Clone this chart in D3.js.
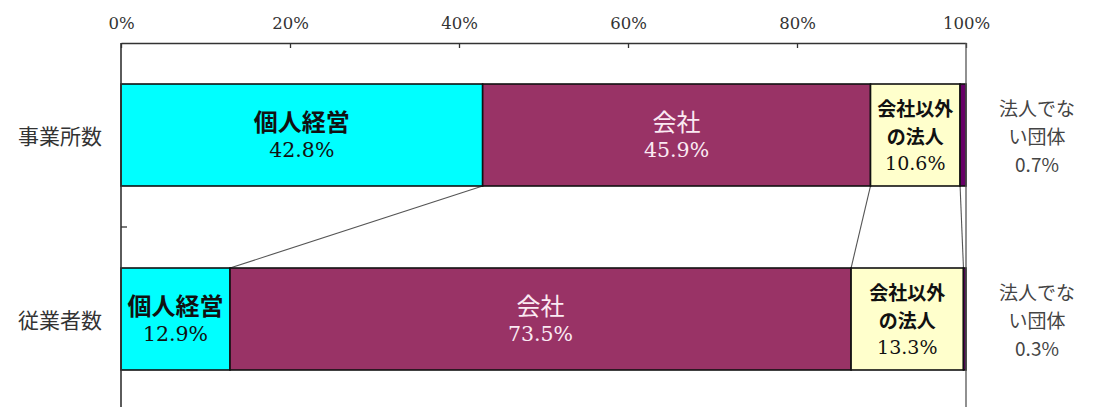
<!DOCTYPE html>
<html>
<head>
<meta charset="utf-8">
<script src="https://cdn.jsdelivr.net/npm/d3@7"></script>
<style>
  html, body { margin: 0; padding: 0; background: #fff; }
  svg { display: block; }
</style>
</head>
<body>
<svg id="chart" width="1100" height="407"></svg>
<script>
// Share of establishments and employees by type of organisation (%)
const categories = ["事業所数", "従業者数"];
const segmentNames = ["個人経営", "会社", "会社以外の法人", "法人でない団体"];
const establishmentShares = [42.8, 45.9, 10.6, 0.7];
const employeeShares = [12.9, 73.5, 13.3, 0.3];
const tickValues = [0, 20, 40, 60, 80, 100];
const segmentLabelLines = [["個人経営"], ["会社"], ["会社以外", "の法人"], ["法人でな", "い団体"]];

const seriesByCategory = [establishmentShares, employeeShares];
const colors = ["#00FFFF", "#993366", "#FFFFCC", "#660066"];
const labelColors = ["#111", "#FBEAF3", "#111", "#444"];
const labelWeights = ["bold", "normal", "bold", "normal"];
const nameSizes = [24, 24, 19, 19];
const pctSizes = [20.5, 20.5, 19, 19];

const serif = "'DejaVu Serif', 'Noto Sans CJK JP', serif";
const jp = "'Noto Sans CJK JP', sans-serif";

const margin = { left: 121, right: 134, top: 43, bottom: -4 };
const width = 1100, height = 407;
const svg = d3.select("#chart");

const x = d3.scaleLinear().domain([0, 100]).range([margin.left, width - margin.right]);
const inner = 0.4457;
const y = d3.scaleBand().domain(categories)
  .range([margin.top, height - margin.bottom])
  .paddingInner(inner).paddingOuter(inner / 2);

// stacked rows
const rows = categories.map((c, i) => {
  let acc = 0;
  return seriesByCategory[i].map((v, j) => {
    const seg = { category: c, index: j, x0: acc, x1: acc + v, value: v };
    acc += v;
    return seg;
  });
});

// connector lines between the stacked segment boundaries
const gLines = svg.append("g");
for (let j = 0; j < segmentNames.length - 1; j++) {
  const a = rows[0][j].x1, b = rows[1][j].x1;
  gLines.append("line")
    .attr("x1", x(a)).attr("y1", y(categories[0]) + y.bandwidth())
    .attr("x2", x(b)).attr("y2", y(categories[1]))
    .attr("stroke", "#555").attr("stroke-width", 1.1);
}

// bars
const gBars = svg.append("g");
rows.forEach(row => {
  gBars.selectAll(null).data(row).join("rect")
    .attr("x", d => x(d.x0))
    .attr("y", d => y(d.category))
    .attr("width", d => x(d.x1) - x(d.x0))
    .attr("height", y.bandwidth())
    .attr("fill", d => colors[d.index])
    .attr("stroke", "#111")
    .attr("stroke-width", 1.6);
});

// plot frame: top axis with inward ticks, left axis, right edge
const xAxis = d3.axisTop(x).tickValues(tickValues).tickFormat(d => d + "%")
  .tickSizeInner(-5).tickSizeOuter(0).tickPadding(14);
const gx = svg.append("g").attr("transform", `translate(0,${margin.top})`).call(xAxis);
gx.select(".domain").attr("stroke", "#333").attr("stroke-width", 1.6);
gx.selectAll(".tick line").attr("stroke", "#333").attr("stroke-width", 1.3);
gx.selectAll(".tick text")
  .attr("font-family", serif).attr("font-size", 16.5).attr("fill", "#333");

svg.append("line")
  .attr("x1", x(0)).attr("x2", x(0))
  .attr("y1", margin.top).attr("y2", height + 5)
  .attr("stroke", "#333").attr("stroke-width", 1.6);
svg.append("line")
  .attr("x1", x(100)).attr("x2", x(100))
  .attr("y1", margin.top).attr("y2", height + 5)
  .attr("stroke", "#555").attr("stroke-width", 1.3);

// tick between the two categories
const boundary = y(categories[1]) - y.step() * y.paddingInner() / 2;
svg.append("line")
  .attr("x1", x(0)).attr("x2", x(0) + 6)
  .attr("y1", boundary).attr("y2", boundary)
  .attr("stroke", "#333").attr("stroke-width", 1.3);

// category labels
svg.append("g").selectAll("text").data(categories).join("text")
  .attr("x", 102)
  .attr("y", d => y(d) + y.bandwidth() / 2)
  .attr("text-anchor", "end")
  .attr("dominant-baseline", "central")
  .attr("font-family", jp).attr("font-size", 21)
  .attr("fill", "#333")
  .text(d => d);

// segment labels: name lines plus percentage, one text element per segment
const gLabels = svg.append("g");
rows.forEach(row => {
  row.forEach(d => {
    const lines = segmentLabelLines[d.index];
    const outside = d.index === 3;
    const cx = outside ? 1037 : (x(d.x0) + x(d.x1)) / 2;
    const cy = y(d.category) + y.bandwidth() / 2;
    const all = lines.concat([d.value.toFixed(1) + "%"]);
    const step = all.length === 3 ? 28 : 29;
    const offset0 = -(all.length - 1) * step / 2;
    const text = gLabels.append("text")
      .attr("text-anchor", "middle")
      .attr("fill", labelColors[d.index]);
    all.forEach((t, k) => {
      const isPct = k === all.length - 1;
      text.append("tspan")
        .attr("x", cx)
        .attr("y", cy + offset0 + k * step)
        .attr("dominant-baseline", "central")
        .attr("font-family", isPct && !outside ? serif : jp)
        .attr("font-weight", isPct ? "normal" : labelWeights[d.index])
        .attr("font-size", isPct ? pctSizes[d.index] : nameSizes[d.index])
        .text(t);
    });
  });
});
</script>
</body>
</html>
